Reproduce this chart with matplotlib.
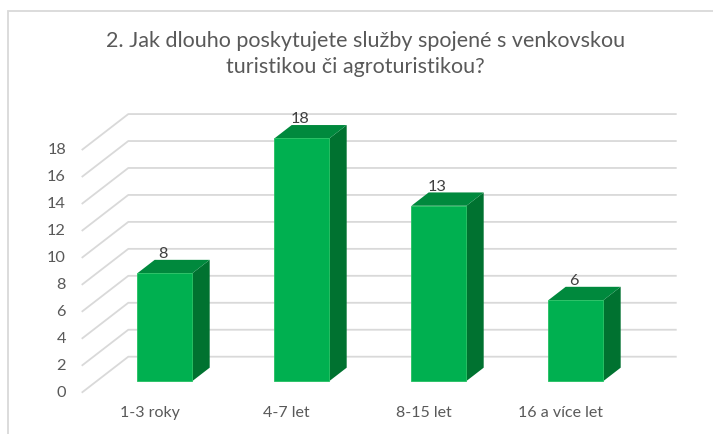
import matplotlib
matplotlib.use("Agg")
import matplotlib.pyplot as plt
from matplotlib.patches import Polygon, Rectangle

# ---- data ----
categories = ["1-3 roky", "4-7 let", "8-15 let", "16 a více let"]
values = [8, 18, 13, 6]
yticks = [0, 2, 4, 6, 8, 10, 12, 14, 16, 18]
title_lines = ["2. Jak dlouho poskytujete služby spojené s venkovskou",
               "turistikou či agroturistikou?"]

# ---- styling / geometry ----
W, H, DPI = 713, 434, 100
FONT = ["Lato", "DejaVu Sans"]
TXT = "#595959"
GRID = "#D9D9D9"
C_FRONT, C_TOP, C_SIDE = "#00B050", "#00893D", "#007230"

px_x0, px_scale_x = 149.8, 137.0   # pixel x of category 0 and per-category pixels
px_y0, px_scale_y = 392.7, 13.48   # pixel y of value 0 and pixels per unit

DDX = 46.6 / px_scale_x   # full depth shift in x data units
DDY = 36.0 / px_scale_y   # full depth shift in y data units
D0, D1 = 0.325, 0.695     # bar depth range
HALF_W = 27.5 / px_scale_x

fig = plt.figure(figsize=(W / DPI, H / DPI), dpi=DPI)
ax = fig.add_axes([0, 0, 1, 1])
ax.set_xlim(-px_x0 / px_scale_x, (W - px_x0) / px_scale_x)
ax.set_ylim((px_y0 - H) / px_scale_y, px_y0 / px_scale_y)
ax.axis("off")

# chart border
fig.patches.append(Rectangle((8 / W, -0.1), 2, 1 - 11 / H + 0.1, transform=fig.transFigure,
                             fill=False, edgecolor=GRID, lw=1.3, zorder=0))

x_left = (81.7 - px_x0) / px_scale_x
x_right = (676.7 - px_x0) / px_scale_x

# gridlines: floor/side diagonal + back wall
for v in yticks:
    ax.plot([x_left, x_left + DDX, x_right], [v, v + DDY, v + DDY],
            color=GRID, lw=1.3, solid_capstyle="butt", zorder=1)
    ax.text((66 - px_x0) / px_scale_x, v, str(v), ha="right", va="center",
            fontsize=11.8, color=TXT, family=FONT)

# bars
for i, (cat, v) in enumerate(zip(categories, values)):
    fx, fy = D0 * DDX, D0 * DDY
    bx, by = D1 * DDX, D1 * DDY
    l, r = i - HALF_W, i + HALF_W
    front = [(l + fx, fy), (r + fx, fy), (r + fx, v + fy), (l + fx, v + fy)]
    side = [(r + fx, fy), (r + bx, by), (r + bx, v + by), (r + fx, v + fy)]
    top = [(l + fx, v + fy), (r + fx, v + fy), (r + bx, v + by), (l + bx, v + by)]
    ax.add_patch(Polygon(side, closed=True, facecolor=C_SIDE, edgecolor="none", zorder=3))
    ax.add_patch(Polygon(top, closed=True, facecolor=C_TOP, edgecolor="none", zorder=3))
    ax.add_patch(Polygon(front, closed=True, facecolor=C_FRONT, edgecolor="#22C060",
                         lw=0.6, zorder=4))
    ax.text(i + fx - 0.012, v + fy + 19 / px_scale_y, str(v), ha="center", va="center",
            fontsize=11.8, color="#404040", family=FONT, zorder=5)
    ax.text(i, (px_y0 - 413) / px_scale_y, cat, ha="center", va="center",
            fontsize=11.5, color=TXT, family=FONT)

fig.text(366 / W, 1 - 46.7 / H, title_lines[0], ha="center", va="baseline",
         fontsize=15.5, color=TXT, family=FONT)
fig.text(355 / W, 1 - 73.3 / H, title_lines[1], ha="center", va="baseline",
         fontsize=15.5, color=TXT, family=FONT)

fig.savefig("out.png", dpi=DPI, facecolor="white")
